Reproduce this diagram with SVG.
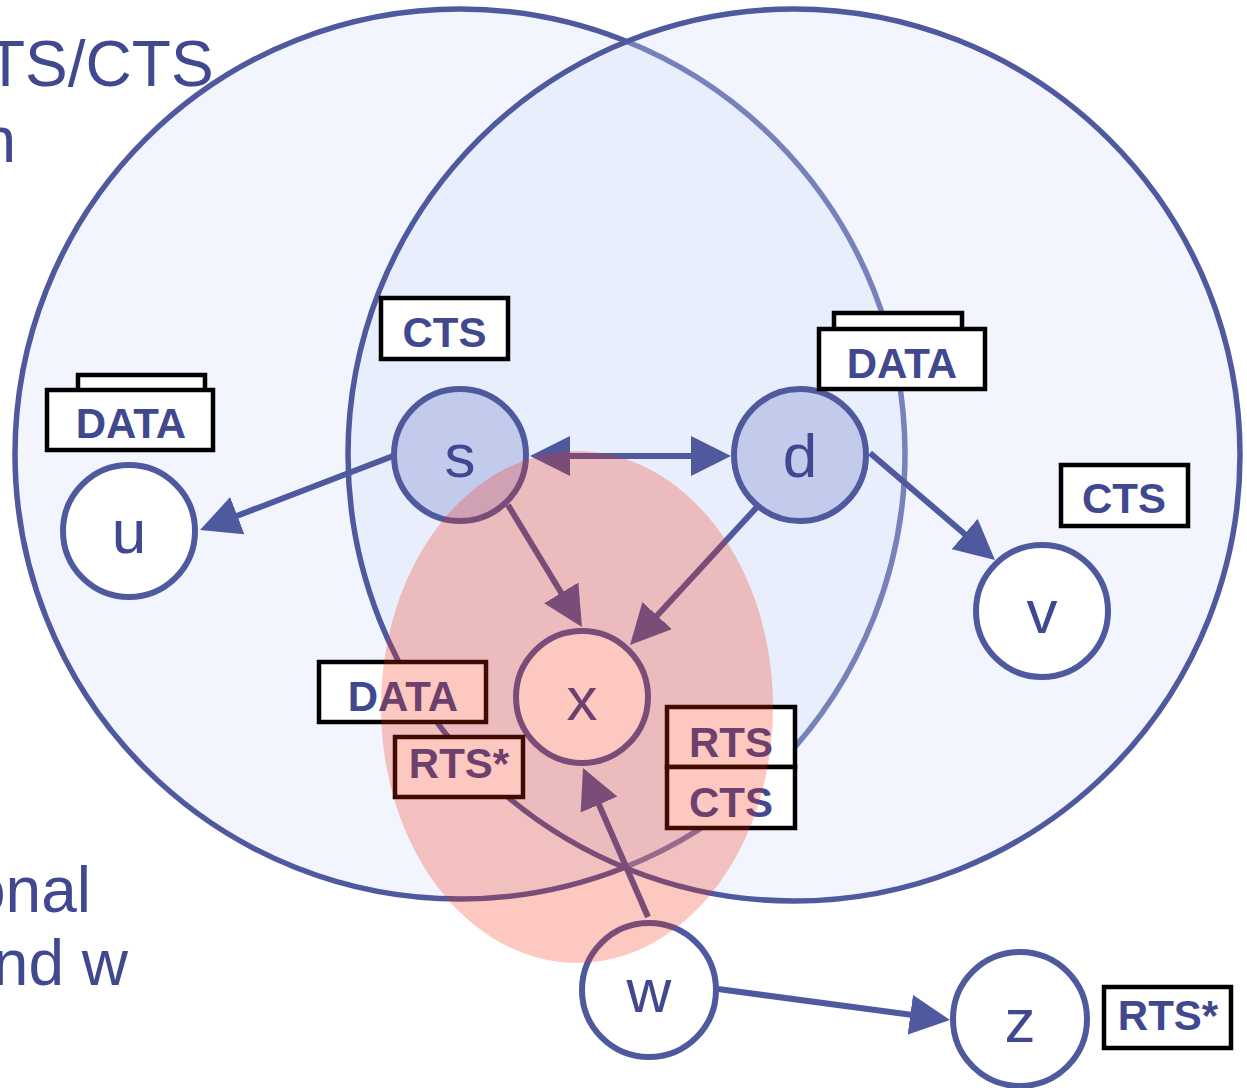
<svg xmlns="http://www.w3.org/2000/svg" width="1247" height="1088" viewBox="0 0 1247 1088">
<defs>
<style>
.big{fill:#d5defc;fill-opacity:0.3;stroke:#4f5a9e;stroke-width:5.5}
.node{stroke:#4f5a9e;stroke-width:6;fill:#ffffff}
.node.hl{fill:#c3cbec}
.nl{font-family:"Liberation Sans",Arial,sans-serif;font-size:62px;fill:#404890;text-anchor:middle}
.box{fill:#ffffff;stroke:#000000;stroke-width:4.5}
.bl{font-family:"Liberation Sans",Arial,sans-serif;font-size:42px;font-weight:bold;fill:#404890;text-anchor:middle}
.side{font-family:"Liberation Sans",Arial,sans-serif;font-size:64px;fill:#404890}
.edge{stroke:#4f5a9e;stroke-width:6;fill:none}
</style>
<marker id="ah" markerUnits="userSpaceOnUse" markerWidth="40" markerHeight="40" refX="25" refY="20" orient="auto-start-reverse" viewBox="0 0 40 40">
<path d="M0,0 L40,20 L0,40 z" fill="#4f5a9e"/>
</marker>
</defs>
<rect width="1247" height="1088" fill="#ffffff"/>
<g id="side-text">
<text class="side" x="-14" y="86">TS/CTS</text>
<text class="side" x="16" y="162" text-anchor="end">n</text>
<text class="side" x="91" y="912" text-anchor="end">onal</text>
<text class="side" x="128" y="985" text-anchor="end">nd w</text>
</g>
<g id="range-s"><circle class="big" cx="460" cy="454" r="445"/></g>
<g id="range-d"><circle class="big" cx="794" cy="455" r="446"/></g>
<g id="connectors">
<line class="edge" x1="393" y1="456" x2="214" y2="524.7" marker-end="url(#ah)"/>
<line class="edge" x1="545" y1="456" x2="716" y2="456" marker-start="url(#ah)" marker-end="url(#ah)"/>
<line class="edge" x1="870" y1="453" x2="983.6" y2="550.2" marker-end="url(#ah)"/>
<line class="edge" x1="508" y1="505" x2="574.2" y2="614.2" marker-end="url(#ah)"/>
<line class="edge" x1="757" y1="507" x2="640.2" y2="634" marker-end="url(#ah)"/>
<line class="edge" x1="648" y1="917" x2="589" y2="781.7" marker-end="url(#ah)"/>
<line class="edge" x1="718" y1="989" x2="935.1" y2="1018" marker-end="url(#ah)"/>
</g>
<g id="node-s"><circle class="node hl" cx="460" cy="455" r="66"/><text class="nl" x="460" y="477">s</text></g>
<g id="node-d"><circle class="node hl" cx="800" cy="455" r="66"/><text class="nl" x="800" y="477">d</text></g>
<g id="node-u"><circle class="node" cx="129" cy="531" r="66"/><text class="nl" x="129" y="553">u</text></g>
<g id="node-v"><circle class="node" cx="1042" cy="611" r="66"/><text class="nl" x="1042" y="633">v</text></g>
<g id="node-x"><circle class="node" cx="582" cy="697" r="66"/><text class="nl" x="582" y="720">x</text></g>
<g id="node-w"><circle class="node" cx="649" cy="990" r="67"/><text class="nl" x="649" y="1012">w</text></g>
<g id="node-z"><circle class="node" cx="1020" cy="1019" r="67"/><text class="nl" x="1020" y="1042">z</text></g>
<g id="label-cts-s"><rect class="box" x="381" y="298" width="127" height="61"/><text class="bl" x="444.5" y="347">CTS</text></g>
<g id="label-data-d"><rect class="box" x="834" y="313" width="128" height="20"/><rect class="box" x="819" y="329" width="166" height="60"/><text class="bl" x="902" y="378">DATA</text></g>
<g id="label-data-u"><rect class="box" x="78" y="375" width="127" height="20"/><rect class="box" x="47" y="390" width="166" height="60"/><text class="bl" x="131" y="438">DATA</text></g>
<g id="label-cts-v"><rect class="box" x="1061" y="465" width="127" height="61"/><text class="bl" x="1124" y="513">CTS</text></g>
<g id="label-data-x"><rect class="box" x="319" y="662" width="167" height="60"/><text class="bl" x="403" y="711">DATA</text></g>
<g id="label-rtsstar-x"><rect class="box" x="395" y="737" width="128" height="60"/><text class="bl" x="459" y="778">RTS*</text></g>
<g id="label-rts-x"><rect class="box" x="667" y="707" width="128" height="60"/><text class="bl" x="731" y="757">RTS</text></g>
<g id="label-cts-x"><rect class="box" x="667" y="767" width="128" height="61"/><text class="bl" x="731" y="817">CTS</text></g>
<g id="label-rtsstar-z"><rect class="box" x="1104" y="987" width="127" height="61"/><text class="bl" x="1168" y="1030">RTS*</text></g>
<g id="range-x"><ellipse cx="577" cy="707" rx="196" ry="256" fill="#f52a0a" fill-opacity="0.26"/></g>
</svg>
